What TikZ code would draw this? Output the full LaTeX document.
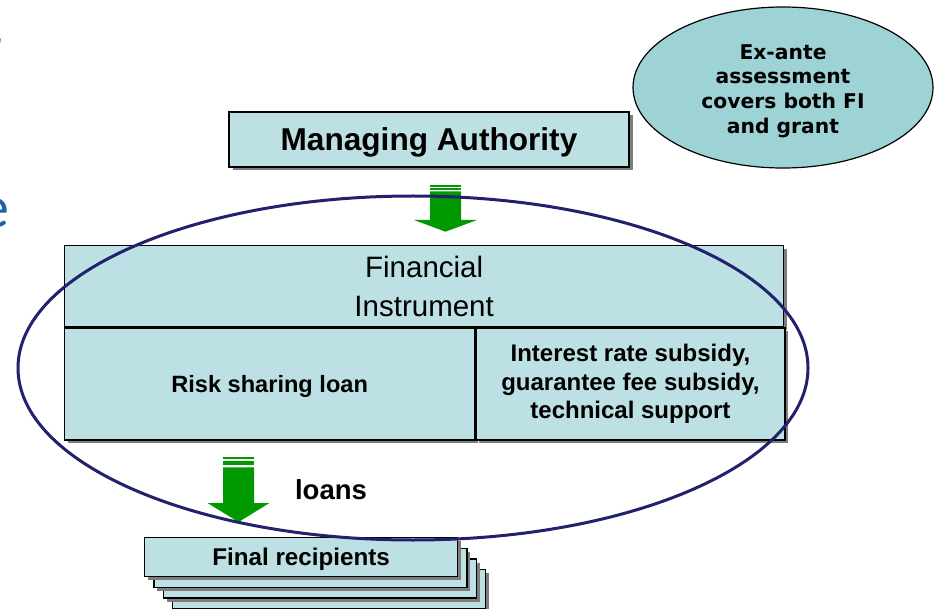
\documentclass[tikz,border=0pt]{standalone}
\usepackage{fontspec}
\setmainfont{Liberation Sans}
\newfontfamily\verdfont{DejaVu Sans}
\newfontfamily\slidefont{Carlito}
\usetikzlibrary{shapes.geometric,calc,shadows}
\definecolor{boxfill}{RGB}{188,224,227}
\definecolor{ellfill}{RGB}{158,211,214}
\definecolor{navyline}{RGB}{33,33,110}
\definecolor{arrowgreen}{RGB}{0,153,0}
\definecolor{shadegrey}{RGB}{125,125,125}
\definecolor{slideblue}{RGB}{30,96,170}
\tikzset{
  tealbox/.style={draw=black, line width=1.3pt, fill=boxfill, inner sep=0pt,
    drop shadow={shadow xshift=3.5pt, shadow yshift=-3.5pt, fill=shadegrey, opacity=1}},
  boldtext/.style={font=\bfseries\fontsize{#1}{#1}\selectfont},
  fragment/.style={font=\slidefont\fontsize{60}{60}\selectfont, text=slideblue, anchor=base east, inner sep=0pt},
  greenfill/.style={fill=arrowgreen}
}
\begin{document}
\begin{tikzpicture}[x=1pt,y=-1pt]
\useasboundingbox (0,0) rectangle (936,609);

% cut-off slide text at the left edge
\node[fragment] (fragr) at (2.5,68) {r};
\node[fragment] (frage) at (9.5,228) {e};

% ex-ante ellipse
\node[ellipse, draw=black, line width=1.2pt, fill=ellfill, minimum width=300pt, minimum height=161pt, inner sep=0pt] (exa) at (783,87.5) {};
\node[align=center, font=\verdfont\bfseries\fontsize{20.3}{24.6}\selectfont, inner sep=0pt] (exatext) at ($(exa.center)+(0,3.5)$) {Ex-ante\\assessment\\covers both FI\\and grant};

% managing authority
\node[tealbox, minimum width=400pt, minimum height=55pt, boldtext=31.6, text height=22.6pt, text depth=0pt] (ma) at (429,139.5) {Managing Authority};

% financial instrument block
\node[tealbox, minimum width=719pt, minimum height=81pt, anchor=north west, align=center, font=\fontsize{29.5}{39}\selectfont] (fitop) at (64,245) {Financial\\Instrument};
\node[tealbox, minimum width=410pt, minimum height=112pt, anchor=north west, boldtext=23.6, text height=16.9pt, text depth=0pt] (fleft) at (fitop.south west) {Risk sharing loan};
\node[tealbox, minimum width=309pt, minimum height=112pt, anchor=north west, align=center, font=\bfseries\fontsize{24}{28.5}\selectfont] (fright) at (fleft.north east) {Interest rate subsidy,\\guarantee fee subsidy,\\technical support};

% final recipients stack
\foreach \i in {3,2,1} {
  \node[tealbox, minimum width=313pt, minimum height=39pt, anchor=north west] (fr\i) at ({144+9.3*\i},{537+10.7*\i}) {};
}
\node[tealbox, minimum width=313pt, minimum height=39pt, anchor=north west, boldtext=24.2, text height=17.3pt, text depth=0pt] (fr) at (144,537) {Final recipients};

% loans label
\node[boldtext=27.5, anchor=base, inner sep=0pt] (loans) at (331,499) {loans};

% green block arrows
\coordinate (arrA) at (445.5,185);
\coordinate (arrB) at (238.5,457);
\begin{scope}[shift={(arrA)}]
  \fill[greenfill] (-15.5,0) rectangle (15.5,2);
  \fill[greenfill] (-15.5,3.3) rectangle (15.5,5);
  \fill[greenfill] (-15.5,6.3) -- (15.5,6.3) -- (15.5,35) -- (31.5,35) -- (0,46.7) -- (-31.5,35) -- (-15.5,35) -- cycle;
\end{scope}
\begin{scope}[shift={(arrB)}]
  \fill[greenfill] (-15.5,0) rectangle (15.5,2);
  \fill[greenfill] (-15.5,4) rectangle (15.5,8);
  \fill[greenfill] (-15.5,10.3) -- (15.5,10.3) -- (15.5,46) -- (31,46) -- (0,65) -- (-31,46) -- (-15.5,46) -- cycle;
\end{scope}

% scope ellipse
\node[ellipse, draw=navyline, line width=3pt, minimum width=790pt, minimum height=344pt, inner sep=0pt] (fiscope) at (413,368) {};
\end{tikzpicture}
\end{document}
